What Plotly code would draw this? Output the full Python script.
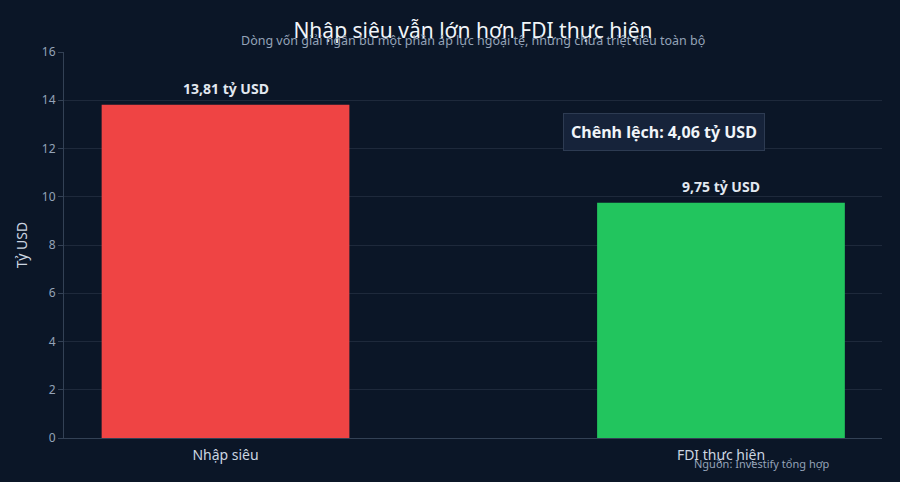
import plotly.graph_objects as go

categories = ["Nhập siêu", "FDI thực hiện"]
values = [13.81, 9.75]
bar_colors = ["#ef4444", "#22c55e"]
value_labels = ["13,81 tỷ USD", "9,75 tỷ USD"]
gap_label = "Chênh lệch: 4,06 tỷ USD"

bg = "#0b1627"
font_family = "Noto Sans"

fig = go.Figure(go.Bar(
    x=categories,
    y=values,
    marker=dict(color=bar_colors, line=dict(width=0)),
    width=0.5,
    hoverinfo="x+y",
))

# value labels above bars
for cat, val, lab in zip(categories, values, value_labels):
    fig.add_annotation(
        x=cat, y=val, text=lab, showarrow=False,
        yanchor="middle", yshift=16,
        font=dict(size=14, color="#e2e8f0", weight="bold"),
    )

fig.update_layout(
    width=900, height=482,
    paper_bgcolor=bg, plot_bgcolor=bg,
    margin=dict(l=64, r=18, t=52, b=44),
    font=dict(family=font_family, color="#cbd5e1"),
    showlegend=False,
    title=dict(
        text="Nhập siêu vẫn lớn hơn FDI thực hiện",
        x=0.5, xref="paper", xanchor="center",
        y=0.937, yref="container", yanchor="middle",
        font=dict(size=21, color="#f1f5f9"),
    ),
)

fig.update_xaxes(
    range=[-0.326, 1.325],
    showline=True, linecolor="#334155", linewidth=1,
    showgrid=False, ticks="",
    ticklabelstandoff=4,
    tickfont=dict(size=14, color="#cbd5e1"),
)
fig.update_yaxes(
    range=[0, 16], dtick=2,
    showline=True, linecolor="#334155", linewidth=1,
    gridcolor="#1e293b", zeroline=False,
    ticks="outside", ticklen=5, tickcolor="#334155",
    tickfont=dict(size=12, color="#94a3b8"),
    title=dict(text="Tỷ USD", font=dict(size=14, color="#cbd5e1"), standoff=10),
)

# subtitle
fig.add_annotation(
    text="Dòng vốn giải ngân bù một phần áp lực ngoại tệ, nhưng chưa triệt tiêu toàn bộ",
    xref="paper", yref="paper", x=0.5, y=1.03, xanchor="center", yanchor="middle",
    showarrow=False, font=dict(size=12.5, color="#94a3b8"),
)

# gap box
fig.add_annotation(
    text=gap_label,
    x=0.885, y=12.7, xref="x", yref="y",
    showarrow=False,
    font=dict(size=16, color="#f1f5f9", weight="bold"),
    bgcolor="#16233a", bordercolor="#2d3b52", borderwidth=1, borderpad=7,
)

# source
fig.add_annotation(
    text="Nguồn: Investify tổng hợp",
    xref="paper", yref="paper", x=0.853, y=-0.065, xanchor="center", yanchor="middle",
    showarrow=False, font=dict(size=11, color="#94a3b8"),
)

fig.write_html("out.html", config={"displayModeBar": False},
               post_script="document.body.style.margin='0';")
